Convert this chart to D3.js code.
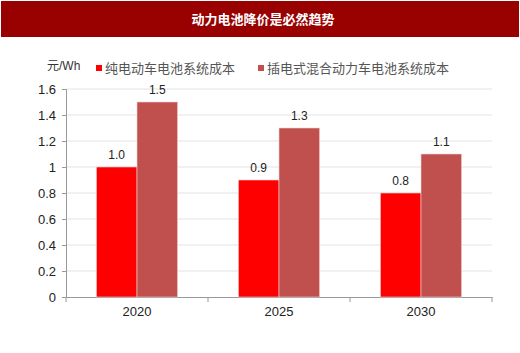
<!DOCTYPE html>
<html>
<head>
<meta charset="utf-8">
<script src="https://cdn.jsdelivr.net/npm/d3@7"></script>
<style>
  body { margin: 0; background: #fff; }
  text { font-family: Arial, "Liberation Sans", "Noto Sans CJK SC", sans-serif; }
</style>
</head>
<body>
<div id="chart"></div>
<script>
const years = ["2020", "2025", "2030"];
const seriesNames = ["纯电动车电池系统成本", "插电式混合动力车电池系统成本"];
const bevCost = [1.0, 0.9, 0.8];
const phevCost = [1.5, 1.3, 1.1];
const yTicks = [0, 0.2, 0.4, 0.6, 0.8, 1, 1.2, 1.4, 1.6];

const width = 520, height = 353;
const margin = { top: 89, right: 28, bottom: 56, left: 66 };

const svg = d3.select("#chart").append("svg")
    .attr("width", width)
    .attr("height", height);

// title bar
svg.append("rect")
    .attr("x", 1).attr("y", 1)
    .attr("width", width - 2).attr("height", 36)
    .attr("fill", "#990000");

svg.append("text")
    .attr("x", 263).attr("y", 24)
    .attr("text-anchor", "middle")
    .attr("fill", "#fff")
    .attr("font-size", 13)
    .attr("font-weight", "bold")
    .style("font-family", "'Noto Sans CJK SC', sans-serif")
    .text("动力电池降价是必然趋势");

const x = d3.scaleBand()
    .domain(years)
    .range([margin.left, width - margin.right]);

const x1 = d3.scaleBand()
    .domain([0, 1])
    .range([0, x.bandwidth()])
    .paddingOuter(0.75);

const y = d3.scaleLinear()
    .domain([0, 1.6])
    .range([height - margin.bottom, margin.top]);

const color = d3.scaleOrdinal()
    .domain([0, 1])
    .range(["#ff0000", "#c0504d"]);

// grid
svg.append("g")
    .selectAll("line")
    .data(yTicks.slice(1))
    .join("line")
    .attr("x1", margin.left)
    .attr("x2", width - margin.right)
    .attr("y1", d => y(d))
    .attr("y2", d => y(d))
    .attr("stroke", "#e3e3e3");

// y axis
const yAxis = svg.append("g")
    .attr("transform", `translate(${margin.left},0)`)
    .call(d3.axisLeft(y).tickValues(yTicks).tickSize(4).tickPadding(6)
      .tickFormat(d => d === 0 || d === 1 ? d : d3.format(".1f")(d)));
yAxis.select(".domain").attr("stroke", "#999");
yAxis.selectAll(".tick line").attr("stroke", "#999");
yAxis.selectAll("text").attr("font-size", 13).attr("fill", "#222");

// x axis
const xAxis = svg.append("g")
    .attr("transform", `translate(0,${height - margin.bottom})`)
    .call(d3.axisBottom(x).tickSize(0).tickPadding(10));
xAxis.select(".domain").attr("stroke", "#999");
xAxis.selectAll("text").attr("font-size", 13).attr("fill", "#222");
svg.append("g")
    .selectAll("line")
    .data(years.map(d => x(d)).concat([x(years[years.length - 1]) + x.bandwidth()]))
    .join("line")
    .attr("x1", d => d).attr("x2", d => d)
    .attr("y1", height - margin.bottom)
    .attr("y2", height - margin.bottom + 5)
    .attr("stroke", "#999");

// bars
const rows = years.map((yr, i) => ({ year: yr, values: [bevCost[i], phevCost[i]] }));

const groups = svg.append("g")
    .selectAll("g")
    .data(rows)
    .join("g")
    .attr("transform", d => `translate(${x(d.year)},0)`);

groups.selectAll("rect")
    .data(d => d.values.map((v, k) => ({ k, v })))
    .join("rect")
    .attr("x", d => x1(d.k))
    .attr("width", x1.bandwidth())
    .attr("y", d => y(d.v))
    .attr("height", d => y(0) - y(d.v))
    .attr("fill", d => color(d.k))
    .attr("stroke", "#f4d0d0")
    .attr("stroke-width", 0.6);

groups.selectAll("text")
    .data(d => d.values.map((v, k) => ({ k, v })))
    .join("text")
    .attr("x", d => x1(d.k) + x1.bandwidth() / 2)
    .attr("y", d => y(d.v) - 8)
    .attr("text-anchor", "middle")
    .attr("font-size", 12)
    .attr("fill", "#222")
    .text(d => d3.format(".1f")(d.v));

// unit label
svg.append("text")
    .attr("x", 47).attr("y", 70)
    .attr("font-size", 12)
    .attr("fill", "#333")
    .text("元/Wh");

// legend
const legendX = [96, 258];
const legend = svg.append("g")
    .selectAll("g")
    .data(seriesNames)
    .join("g")
    .attr("transform", (d, i) => `translate(${legendX[i]},66)`);

legend.append("rect")
    .attr("y", -1)
    .attr("width", 6).attr("height", 6)
    .attr("fill", (d, i) => color(i));

legend.append("text")
    .attr("x", 9).attr("y", 7)
    .attr("font-size", 13)
    .attr("fill", "#555")
    .style("font-family", "'Noto Sans CJK SC', sans-serif")
    .text(d => d);
</script>
</body>
</html>
